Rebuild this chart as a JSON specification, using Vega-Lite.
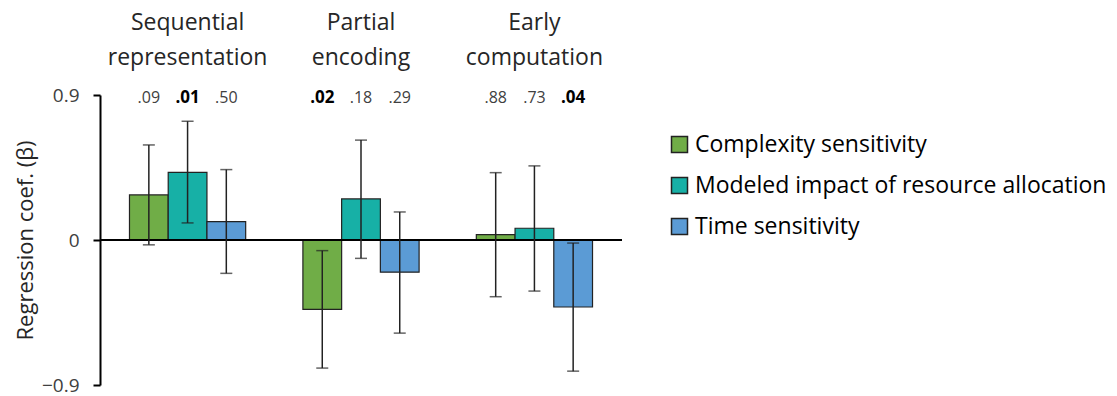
{
  "$schema": "https://vega.github.io/schema/vega-lite/v6.json",
  "width": 522,
  "height": 290,
  "autosize": {"type": "none"},
  "padding": {"left": 100, "top": 95, "right": 495, "bottom": 11},
  "background": "white",
  "config": {"view": {"stroke": null}, "font": "Open Sans"},
  "data": {
    "values": [
      {"group": "Sequential representation", "series": "Complexity sensitivity", "beta": 0.28, "lo": -0.03, "hi": 0.59, "p": ".09", "sig": false},
      {"group": "Sequential representation", "series": "Modeled impact of resource allocation", "beta": 0.42, "lo": 0.106, "hi": 0.737, "p": ".01", "sig": true},
      {"group": "Sequential representation", "series": "Time sensitivity", "beta": 0.114, "lo": -0.207, "hi": 0.437, "p": ".50", "sig": false},
      {"group": "Partial encoding", "series": "Complexity sensitivity", "beta": -0.43, "lo": -0.795, "hi": -0.066, "p": ".02", "sig": true},
      {"group": "Partial encoding", "series": "Modeled impact of resource allocation", "beta": 0.255, "lo": -0.114, "hi": 0.62, "p": ".18", "sig": false},
      {"group": "Partial encoding", "series": "Time sensitivity", "beta": -0.2, "lo": -0.578, "hi": 0.174, "p": ".29", "sig": false},
      {"group": "Early computation", "series": "Complexity sensitivity", "beta": 0.033, "lo": -0.352, "hi": 0.418, "p": ".88", "sig": false},
      {"group": "Early computation", "series": "Modeled impact of resource allocation", "beta": 0.073, "lo": -0.317, "hi": 0.46, "p": ".73", "sig": false},
      {"group": "Early computation", "series": "Time sensitivity", "beta": -0.416, "lo": -0.814, "hi": -0.019, "p": ".04", "sig": true}
    ]
  },
  "encoding": {
    "x": {
      "field": "group", "type": "nominal",
      "sort": ["Sequential representation", "Partial encoding", "Early computation"],
      "scale": {"paddingInner": 0.33, "paddingOuter": 0.17},
      "axis": {
        "orient": "top", "title": null, "domain": false, "ticks": false,
        "labelAngle": 0, "labelFontSize": 23, "labelColor": "#262626",
        "labelLineHeight": 35, "labelPadding": 61, "labelFont": "Open Sans",
        "labelExpr": "split(datum.label, ' ')"
      }
    },
    "xOffset": {
      "field": "series", "type": "nominal",
      "sort": ["Complexity sensitivity", "Modeled impact of resource allocation", "Time sensitivity"],
      "scale": {"paddingInner": 0, "paddingOuter": 0}
    }
  },
  "layer": [
    {
      "mark": {"type": "bar", "stroke": "#222222", "strokeWidth": 1.2},
      "encoding": {
        "y": {
          "field": "beta", "type": "quantitative",
          "scale": {"domain": [-0.9, 0.9], "nice": false, "zero": false},
          "axis": {
            "values": [-0.9, 0, 0.9], "grid": false,
            "domainColor": "black", "domainWidth": 2,
            "tickColor": "black", "tickWidth": 2, "tickSize": 7,
            "labelFontSize": 19, "labelColor": "#404040", "labelPadding": 14,
            "labelExpr": "datum.value == 0 ? '0' : replace(format(datum.value, '.1f'), '-', '\u2212')",
            "title": "Regression coef. (\u03b2)", "titleFontSize": 22, "titleFontWeight": "normal",
            "titleColor": "#262626", "titlePadding": 4
          }
        },
        "color": {
          "field": "series", "type": "nominal",
          "sort": ["Complexity sensitivity", "Modeled impact of resource allocation", "Time sensitivity"],
          "scale": {"range": ["#70AD47", "#17B0A6", "#5B9BD5"]},
          "legend": {
            "title": null, "orient": "none", "legendX": 568, "legendY": 38,
            "symbolType": "square", "symbolSize": 256, "symbolStrokeColor": "#222222",
            "symbolStrokeWidth": 1.5, "symbolOpacity": 1,
            "labelFontSize": 23, "labelColor": "black", "labelOffset": 4,
            "rowPadding": 17, "padding": 0, "labelLimit": 600
          }
        }
      }
    },
    {
      "mark": {"type": "rule", "color": "black", "strokeWidth": 2},
      "encoding": {"y": {"datum": 0}, "x": null, "xOffset": null}
    },
    {
      "mark": {"type": "rule", "color": "#222222", "strokeWidth": 1.5},
      "encoding": {"y": {"field": "lo", "type": "quantitative"}, "y2": {"field": "hi"}}
    },
    {
      "mark": {"type": "tick", "color": "#222222", "thickness": 1.5, "size": 12, "orient": "horizontal"},
      "encoding": {"y": {"field": "lo", "type": "quantitative"}}
    },
    {
      "mark": {"type": "tick", "color": "#222222", "thickness": 1.5, "size": 12, "orient": "horizontal"},
      "encoding": {"y": {"field": "hi", "type": "quantitative"}}
    },
    {
      "transform": [{"filter": "!datum.sig"}],
      "mark": {"type": "text", "fontSize": 16, "color": "#404040", "baseline": "middle", "dy": 3},
      "encoding": {"y": {"datum": 0.9}, "text": {"field": "p"}}
    },
    {
      "transform": [{"filter": "datum.sig"}],
      "mark": {"type": "text", "fontSize": 17, "fontWeight": "bold", "color": "black", "baseline": "middle", "dy": 3},
      "encoding": {"y": {"datum": 0.9}, "text": {"field": "p"}}
    }
  ]
}
